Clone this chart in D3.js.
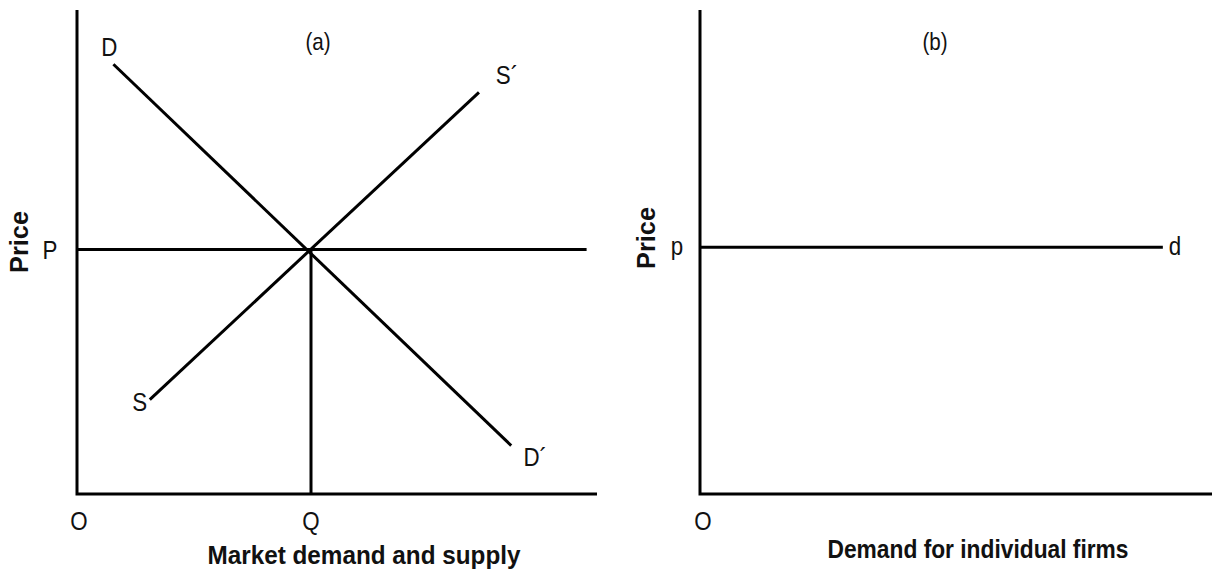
<!DOCTYPE html>
<html>
<head>
<meta charset="utf-8">
<script src="https://cdn.jsdelivr.net/npm/d3@7"></script>
<style>
  body { margin: 0; background: #fff; }
  text { font-family: "Liberation Sans", Arial, sans-serif; fill: #111; }
</style>
</head>
<body>
<div id="chart"></div>
<script>
// panel (a) market curves, in abstract units 0..100
const demandA = [{q: 7, p: 88.8}, {q: 83.5, p: 10}];
const supplyA = [{q: 14, p: 19.5}, {q: 77.3, p: 83}];
const priceA = 50.5;
const qtyA = 45;
const priceLineEndA = 98;

// panel (b) firm demand
const priceB = 51;
const demandEndB = 90.4;

const width = 1215, height = 569;

const svg = d3.select("#chart")
    .append("svg")
    .attr("width", width)
    .attr("height", height);

const y = d3.scaleLinear().domain([0, 100]).range([494, 10]);
const xa = d3.scaleLinear().domain([0, 100]).range([77, 597]);
const xb = d3.scaleLinear().domain([0, 100]).range([700, 1212]);

const line = (x) => d3.line().x(d => x(d.q)).y(d => y(d.p));

function axes(x) {
    svg.append("path")
        .attr("d", line(x)([{q: 0, p: 100}, {q: 0, p: 0}, {q: 100, p: 0}]))
        .attr("fill", "none")
        .attr("stroke", "#000")
        .attr("stroke-width", 3)
        .attr("stroke-linejoin", "miter");
}

function seg(x, pts) {
    svg.append("path")
        .attr("d", line(x)(pts))
        .attr("fill", "none")
        .attr("stroke", "#000")
        .attr("stroke-width", 3);
}

// labels drawn slightly condensed, like the original print
function label(x0, y0, txt, opts = {}) {
    let sx = opts.sx || 0.86;
    let t = opts.rotate ? `translate(${x0},${y0}) rotate(-90) scale(${sx},1)`
                        : `translate(${x0},${y0}) scale(${sx},1)`;
    let el = svg.append("text")
        .attr("transform", t)
        .attr("text-anchor", opts.anchor || "middle")
        .attr("dominant-baseline", "central")
        .attr("font-size", opts.size || 26)
        .attr("font-weight", opts.bold ? "bold" : "normal")
        .text(txt);
    if (opts.len) {
        el.attr("textLength", opts.len / sx).attr("lengthAdjust", "spacingAndGlyphs");
    }
}

// ---- panel (a)
axes(xa);
seg(xa, [{q: 0, p: priceA}, {q: priceLineEndA, p: priceA}]);
seg(xa, [{q: qtyA, p: priceA}, {q: qtyA, p: 0}]);
seg(xa, demandA);
seg(xa, supplyA);

label(xa(demandA[0].q) - 4, y(demandA[0].p) - 17, "D");
label(xa(demandA[1].q) + 24, y(demandA[1].p) + 11, "D\u00B4");
label(xa(supplyA[0].q) - 10, y(supplyA[0].p) + 2, "S");
label(xa(supplyA[1].q) + 28, y(supplyA[1].p) - 17, "S\u00B4");
label(xa(0) - 27, y(priceA), "P");
label(xa(0) + 2, 521, "O");
label(xa(qtyA), 521, "Q");
label(318, 42, "(a)", {size: 24});
label(19, 242, "Price", {size: 26, bold: true, rotate: true, len: 62});
label(364, 555, "Market demand and supply", {size: 26, bold: true, len: 313});

// ---- panel (b)
axes(xb);
seg(xb, [{q: 0, p: priceB}, {q: demandEndB, p: priceB}]);
label(xb(demandEndB) + 12, y(priceB) - 1, "d");
label(xb(0) - 23, y(priceB) - 1, "p");
label(xb(0) + 3, 521, "O");
label(935, 42, "(b)", {size: 24});
label(646, 238, "Price", {size: 26, bold: true, rotate: true, len: 62});
label(978, 549, "Demand for individual firms", {size: 26, bold: true, len: 301});
</script>
</body>
</html>
